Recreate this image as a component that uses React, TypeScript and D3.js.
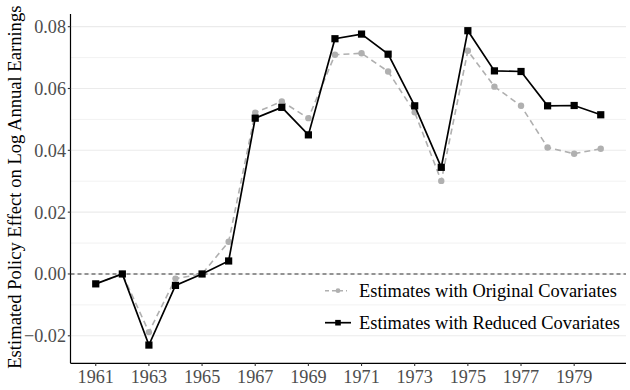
import React from "react";
import * as d3 from "d3";

const years = [1961,1962,1963,1964,1965,1966,1967,1968,1969,1970,1971,1972,1973,1974,1975,1976,1977,1978,1979,1980];
const originalEst = [-0.0032,0.0,-0.0188,-0.0015,0.0,0.0104,0.0522,0.0558,0.0504,0.0709,0.0714,0.0655,0.0523,0.0301,0.0722,0.0606,0.0544,0.0409,0.0389,0.0405];
const reducedEst = [-0.0032,0.0,-0.0230,-0.0037,0.0,0.0042,0.0504,0.0539,0.0450,0.0761,0.0776,0.0711,0.0544,0.0345,0.0787,0.0657,0.0655,0.0544,0.0545,0.0515];
const xTicks = [1961,1963,1965,1967,1969,1971,1973,1975,1977,1979];
const yTicks = [-0.02,0.0,0.02,0.04,0.06,0.08];
const yMinor = [-0.01,0.01,0.03,0.05,0.07];
const seriesNames = ["Estimates with Original Covariates","Estimates with Reduced Covariates"];

const W = 630, H = 390;
const panel = { left: 70.5, right: 626, top: 14, bottom: 363.3 };
const FONT = "'Liberation Serif', 'Times New Roman', serif";

export default function App() {
  const x = d3.scaleLinear().domain([1960.05, 1980.95]).range([panel.left, panel.right]);
  const y = d3.scaleLinear().domain([-0.0289, 0.0841]).range([panel.bottom, panel.top]);
  const line = d3.line<number>().x((_, i) => x(years[i])).y(v => y(v));

  const grayCol = "#b0b0b0";
  const legX = 325, legTextX = 359;
  const legY = [290.7, 322.7];

  return (
    <svg width={W} height={H} style={{ position: "absolute", left: 0, top: 0, background: "#fff" }} fontFamily={FONT}>
      <rect x={0} y={0} width={W} height={H} fill="#fff" />
      {/* gridlines */}
      {yMinor.map(v => (
        <line key={"mn" + v} x1={panel.left} x2={panel.right} y1={y(v)} y2={y(v)} stroke="#f0f0f0" strokeWidth={0.9} />
      ))}
      {yTicks.map(v => (
        <line key={"mj" + v} x1={panel.left} x2={panel.right} y1={y(v)} y2={y(v)} stroke="#ebebeb" strokeWidth={1.1} />
      ))}
      {/* zero reference line */}
      <line x1={panel.left} x2={panel.right} y1={y(0)} y2={y(0)} stroke="#333" strokeWidth={1.1} strokeDasharray="4,3" />

      {/* original covariates series */}
      <path d={line(originalEst) || ""} fill="none" stroke={grayCol} strokeWidth={1.6} strokeDasharray="6,4" />
      {originalEst.map((v, i) => (
        <circle key={"c" + i} cx={x(years[i])} cy={y(v)} r={3.2} fill={grayCol} />
      ))}

      {/* reduced covariates series */}
      <path d={line(reducedEst) || ""} fill="none" stroke="#000" strokeWidth={1.7} />
      {reducedEst.map((v, i) => (
        <rect key={"s" + i} x={x(years[i]) - 3.6} y={y(v) - 3.6} width={7.2} height={7.2} fill="#000" />
      ))}

      {/* axes */}
      <line x1={panel.left} x2={panel.left} y1={panel.top} y2={panel.bottom} stroke="#000" strokeWidth={1.2} />
      <line x1={panel.left} x2={panel.right} y1={panel.bottom} y2={panel.bottom} stroke="#000" strokeWidth={1.2} />
      {yTicks.map(v => (
        <g key={"yt" + v}>
          <line x1={panel.left - 2.7} x2={panel.left} y1={y(v)} y2={y(v)} stroke="#333" strokeWidth={1.1} />
          <text x={panel.left - 4.5} y={y(v)} dy="0.35em" textAnchor="end" fontSize={18.2} fill="#4d4d4d">
            {v < 0 ? "\u2212" + Math.abs(v).toFixed(2) : v.toFixed(2)}
          </text>
        </g>
      ))}
      {xTicks.map(t => (
        <g key={"xt" + t}>
          <line x1={x(t)} x2={x(t)} y1={panel.bottom} y2={panel.bottom + 2.7} stroke="#333" strokeWidth={1.1} />
          <text x={x(t)} y={panel.bottom + 19.5} textAnchor="middle" fontSize={18.2} fill="#4d4d4d">{t}</text>
        </g>
      ))}

      {/* y title */}
      <text transform={`translate(21,${(panel.top + panel.bottom) / 2 - 1.5}) rotate(-90)`} textAnchor="middle" fontSize={18.6} fill="#000">
        Estimated Policy Effect on Log Annual Earnings
      </text>

      {/* legend */}
      <line x1={legX} x2={legX + 22} y1={legY[0]} y2={legY[0]} stroke={grayCol} strokeWidth={1.6} strokeDasharray="4,3" />
      <circle cx={legX + 13} cy={legY[0]} r={2.4} fill={grayCol} />
      <text x={legTextX} y={legY[0]} dy="0.33em" fontSize={18.4} fill="#000">{seriesNames[0]}</text>
      <line x1={legX} x2={legX + 26} y1={legY[1]} y2={legY[1]} stroke="#000" strokeWidth={1.7} />
      <rect x={legX + 13 - 2.8} y={legY[1] - 2.8} width={5.6} height={5.6} fill="#000" />
      <text x={legTextX} y={legY[1]} dy="0.33em" fontSize={18.4} fill="#000">{seriesNames[1]}</text>
    </svg>
  );
}
